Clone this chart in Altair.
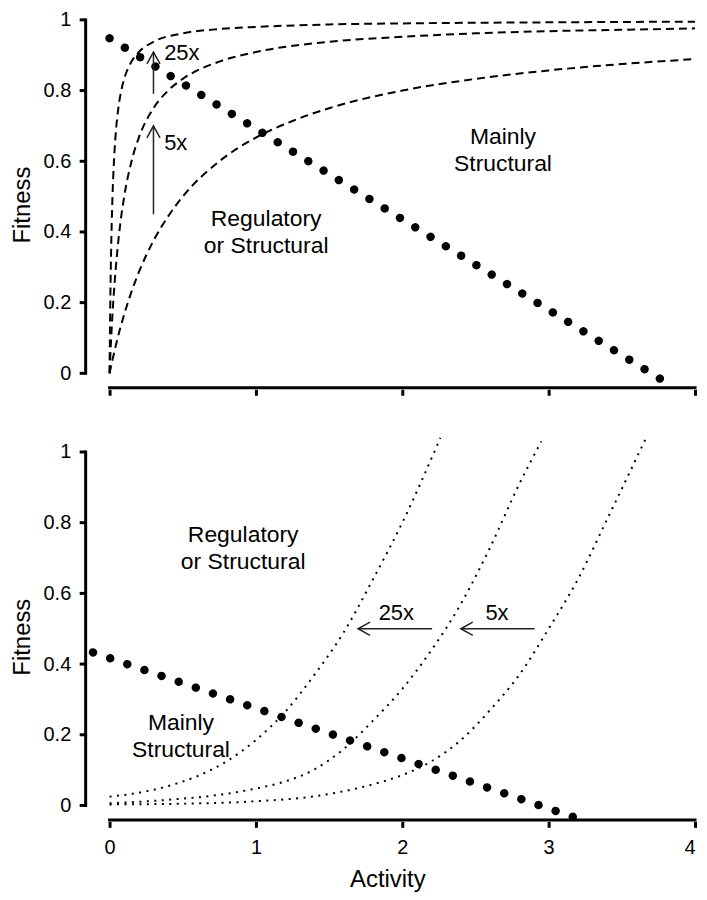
import math
import altair as alt
import pandas as pd

FONT = "Liberation Sans"

# ---------------- top panel ----------------
# dashed saturating curves
lo_x = [0, 0.02, 0.05, 0.1, 0.15, 0.2, 0.3, 0.4, 0.5, 0.75, 1.0, 1.25, 1.5, 2.0, 2.5, 3.0, 3.5, 4.0]
lo_y = [0, 0.038, 0.091, 0.167, 0.231, 0.286, 0.375, 0.444, 0.5, 0.6, 0.667, 0.714, 0.75, 0.8, 0.833, 0.857, 0.875, 0.889]
mid_x = [0, 0.005, 0.01, 0.02, 0.03, 0.05, 0.075, 0.1, 0.15, 0.2, 0.3, 0.4, 0.5, 0.75, 1.0, 1.5, 2.0, 2.5, 3.0, 3.5, 4.0]
mid_y = [0, 0.048, 0.091, 0.167, 0.231, 0.333, 0.429, 0.5, 0.6, 0.667, 0.75, 0.8, 0.833, 0.882, 0.909, 0.938, 0.952, 0.962, 0.968, 0.972, 0.976]
hi_x = [0, 0.001, 0.002, 0.004, 0.006, 0.01, 0.015, 0.02, 0.03, 0.04, 0.06, 0.08, 0.1, 0.15, 0.2, 0.3, 0.5, 0.75, 1.0, 1.5, 2.0, 3.0, 4.0]
hi_y = [0, 0.048, 0.091, 0.167, 0.231, 0.333, 0.429, 0.5, 0.6, 0.667, 0.75, 0.8, 0.833, 0.882, 0.909, 0.938, 0.962, 0.974, 0.980, 0.987, 0.990, 0.993, 0.995]

# dotted straight line (first and last dot, number of dots)
top_dots_x = [0.0, 3.76]
top_dots_y = [0.948, -0.015]
top_dots_n = 37

# vertical arrows
top_arrow_x = [0.3, 0.3]
top_arrow_from = [0.791, 0.45]
top_arrow_to = [0.909, 0.70]

# labels (y = first text line)
top_arrow_lbl = ["25x", "5x"]
top_arrow_lbl_x = [0.373, 0.373]
top_arrow_lbl_y = [0.907, 0.651]
top_lbl = ["Regulatory\nor Structural", "Mainly\nStructural"]
top_lbl_x = [1.07, 2.688]
top_lbl_y = [0.437, 0.668]

# ---------------- bottom panel ----------------
a_x = [0, 0.2, 0.4, 0.6, 0.8, 1.0, 1.2, 1.4, 1.6, 1.8, 2.0, 2.26]
a_y = [0.025, 0.036, 0.055, 0.083, 0.125, 0.185, 0.265, 0.37, 0.49, 0.64, 0.80, 1.04]
b_x = [0, 0.4, 0.8, 1.0, 1.2, 1.4, 1.6, 1.8, 2.0, 2.2, 2.4, 2.6, 2.8, 2.95]
b_y = [0.006, 0.016, 0.033, 0.048, 0.068, 0.102, 0.16, 0.24, 0.33, 0.44, 0.57, 0.73, 0.91, 1.03]
c_x = [0, 0.5, 1.0, 1.4, 1.8, 2.0, 2.2, 2.4, 2.6, 2.8, 3.0, 3.2, 3.4, 3.66]
c_y = [0.003, 0.005, 0.012, 0.026, 0.06, 0.086, 0.125, 0.185, 0.27, 0.37, 0.50, 0.64, 0.81, 1.035]

bot_dots_x = [-0.113, 3.165]
bot_dots_y = [0.433, -0.032]
bot_dots_n = 29

bot_arrow_from = [2.204, 2.904]
bot_arrow_to = [1.698, 2.40]
bot_arrow_y = [0.5, 0.5]

bot_lbl = ["25x", "5x", "Regulatory\nor Structural", "Mainly\nStructural"]
bot_lbl_x = [1.959, 2.647, 0.913, 0.488]
bot_lbl_y = [0.545, 0.545, 0.766, 0.234]
bot_lbl_size = [22, 22, 23, 23]

y_ticks = [0, 0.2, 0.4, 0.6, 0.8, 1]
x_ticks = [0, 1, 2, 3, 4]

# ---------------- geometry (styles, not data) ----------------
PPU_X = 147.0        # px per activity unit
PPU_Y = 355.0        # px per fitness unit
Y_LINE = 24.0        # y-axis line sits this many px left of activity 0
Y_TICK = 6.0
X_LINE = 14.5        # x-axis line sits this many px below fitness 0
X_EXT = 16.0         # plot extends this many px below fitness 0
LW = 3.0             # axis line width in px

x_min = -(Y_LINE + Y_TICK) / PPU_X
y_min = -X_EXT / PPU_Y
W = round((4 - x_min) * PPU_X)
H = round((1 - y_min) * PPU_Y)
x_line_pos = -Y_LINE / PPU_X
y_line_pos = -X_LINE / PPU_Y
hx = LW / 2 / PPU_X
hy = LW / 2 / PPU_Y

XS = alt.Scale(domain=[x_min, 4], nice=False, zero=False)
YS = alt.Scale(domain=[y_min, 1], nice=False, zero=False)

common_axis = dict(grid=False, tickColor="#000000", labelColor="black", tickWidth=3,
                   labelFont=FONT, titleFont=FONT, labelFontSize=20, titleFontSize=24,
                   titleFontWeight="normal", titleColor="black")

y_axis = alt.Axis(values=y_ticks, format="~g", title="Fitness", domain=False, ticks=False,
                  tickSize=0, labelPadding=9, titlePadding=9, **common_axis)
top_x_axis = alt.Axis(values=x_ticks, labels=False, title=None, domain=False, ticks=True,
                      tickSize=6, **common_axis)
bot_x_axis = alt.Axis(values=x_ticks, format="d", title="Activity", domain=False, ticks=True,
                      tickSize=6, labelPadding=10, titlePadding=10, **common_axis)


def X(f, axis):
    return alt.X(f, type="quantitative", scale=XS, axis=axis)


def Y(f):
    return alt.Y(f, type="quantitative", scale=YS, axis=y_axis)


def curves_df(series):
    rows = []
    for name, xs, ys in series:
        for xv, yv in zip(xs, ys):
            rows.append({"x": xv, "y": yv, "c": name})
    return pd.DataFrame(rows)


def dot_line(xs, ys, n, size, xaxis):
    L = math.hypot((xs[1] - xs[0]) * PPU_X, (ys[1] - ys[0]) * PPU_Y)
    period = L / (n - 1) * 0.9999
    df = pd.DataFrame({"x": xs, "y": ys})
    return alt.Chart(df).mark_line(color="black", strokeWidth=size, strokeCap="round",
                                   strokeDash=[0.01, period - 0.01]).encode(
        x=X("x", xaxis), y=Y("y"))


def axis_rects(xaxis):
    # axis lines and y ticks as filled thin rectangles
    x1, x2, y1, y2 = [], [], [], []
    # y-axis line, fitness 0..1
    x1.append(x_line_pos - hx); x2.append(x_line_pos + hx)
    y1.append(y_ticks[0] - hy); y2.append(y_ticks[-1] + hy)
    # y ticks
    for t in y_ticks:
        x1.append(x_min); x2.append(x_line_pos)
        y1.append(t - hy); y2.append(t + hy)
    # x-axis line, activity 0..4
    x1.append(x_ticks[0] - hx); x2.append(x_ticks[-1] + hx)
    y1.append(y_line_pos - hy); y2.append(y_line_pos + hy)
    df = pd.DataFrame({"x1": x1, "x2": x2, "y1": y1, "y2": y2})
    return alt.Chart(df).mark_rect(color="black", opacity=1).encode(
        x=X("x1", xaxis), x2="x2", y=Y("y1"), y2="y2")


UP = "M -0.55 1 L 0 0 L 0.55 1"
LEFT = "M 1 -0.55 L 0 0 L 1 0.55"

# ---------------- top panel ----------------
top_curves = alt.Chart(curves_df([("lo", lo_x, lo_y), ("mid", mid_x, mid_y), ("hi", hi_x, hi_y)])).mark_line(
    color="black", strokeWidth=2, strokeDash=[8, 5], interpolate="monotone").encode(
    x=X("x", top_x_axis), y=Y("y"), detail="c:N")

top_dots = dot_line(top_dots_x, top_dots_y, top_dots_n, 8.5, top_x_axis)

tarr = pd.DataFrame({"x": top_arrow_x, "y": top_arrow_from, "y2": top_arrow_to})
top_rules = alt.Chart(tarr).mark_rule(color="#222", strokeWidth=1.5).encode(
    x=X("x", top_x_axis), y=Y("y"), y2="y2")
top_heads = alt.Chart(tarr).mark_point(shape=UP, size=576, color="#222", strokeWidth=1.5,
                                       filled=False, opacity=1).encode(
    x=X("x", top_x_axis), y=Y("y2"))

top_t1 = alt.Chart(pd.DataFrame({"x": top_arrow_lbl_x, "y": top_arrow_lbl_y, "t": top_arrow_lbl})).mark_text(
    font=FONT, fontSize=22, align="left", baseline="middle", color="black").encode(
    x=X("x", top_x_axis), y=Y("y"), text="t:N")
top_t2 = alt.Chart(pd.DataFrame({"x": top_lbl_x, "y": top_lbl_y, "t": top_lbl})).mark_text(
    font=FONT, fontSize=23, align="center", baseline="middle", color="black", lineBreak="\n",
    lineHeight=27).encode(
    x=X("x", top_x_axis), y=Y("y"), text="t:N")

top = alt.layer(axis_rects(top_x_axis), top_curves, top_dots, top_rules, top_heads, top_t1,
                top_t2).properties(width=W, height=H)

# ---------------- bottom panel ----------------
bot_curves = alt.Chart(curves_df([("a", a_x, a_y), ("b", b_x, b_y), ("c", c_x, c_y)])).mark_line(
    color="black", strokeWidth=2, strokeDash=[2, 5.5], interpolate="monotone").encode(
    x=X("x", bot_x_axis), y=Y("y"), detail="c:N")

bot_dots = dot_line(bot_dots_x, bot_dots_y, bot_dots_n, 8.5, bot_x_axis)

barr = pd.DataFrame({"x": bot_arrow_from, "x2": bot_arrow_to, "y": bot_arrow_y})
bot_rules = alt.Chart(barr).mark_rule(color="#222", strokeWidth=1.5).encode(
    x=X("x", bot_x_axis), x2="x2", y=Y("y"))
bot_heads = alt.Chart(barr).mark_point(shape=LEFT, size=576, color="#222", strokeWidth=1.5,
                                       filled=False, opacity=1).encode(
    x=X("x2", bot_x_axis), y=Y("y"))

bot_t = alt.Chart(pd.DataFrame({"x": bot_lbl_x, "y": bot_lbl_y, "t": bot_lbl, "s": bot_lbl_size})).mark_text(
    font=FONT, align="center", baseline="middle", color="black", lineBreak="\n", lineHeight=27).encode(
    x=X("x", bot_x_axis), y=Y("y"), text="t:N", size=alt.Size("s:Q", scale=None, legend=None))

bottom = alt.layer(axis_rects(bot_x_axis), bot_curves, bot_dots, bot_rules, bot_heads,
                   bot_t).properties(width=W, height=H)

chart = alt.vconcat(top, bottom, spacing=36).properties(
    padding={"top": 0, "left": 2, "right": 0, "bottom": 0},
    background="white",
).configure_view(stroke=None)

chart.save("out.html", embed_options={"renderer": "svg", "actions": False})
